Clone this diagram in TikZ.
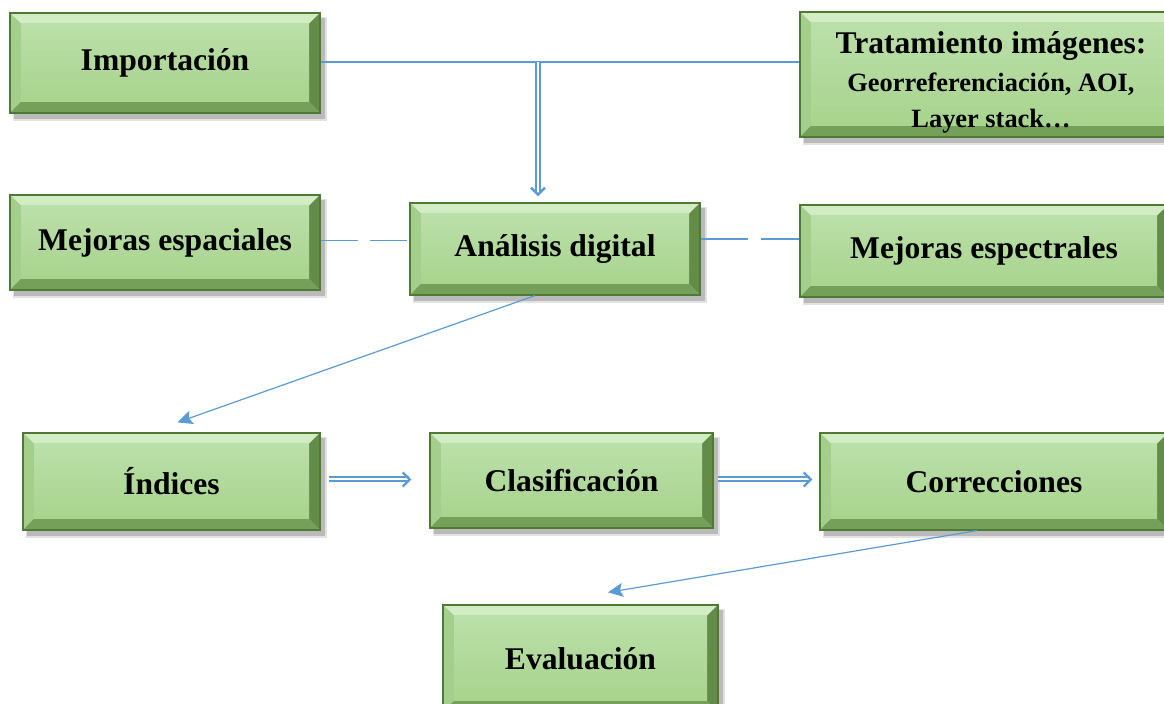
\documentclass[tikz,border=0pt]{standalone}
\usepackage{fontspec}
\setmainfont{Liberation Serif}
\usetikzlibrary{arrows.meta}
\definecolor{topc}{HTML}{D2EDC3}
\definecolor{leftc}{HTML}{A3CE8B}
\definecolor{rightc}{HTML}{628C48}
\definecolor{botc}{HTML}{74A05A}
\definecolor{midtop}{HTML}{BBDFA9}
\definecolor{midbot}{HTML}{A8D48E}
\definecolor{borderc}{HTML}{4E7A33}
\definecolor{shadowc}{HTML}{8A8A8A}
\definecolor{lineblue}{HTML}{5B9BD5}
\tikzset{
  gtext/.style={draw=borderc, line width=0.6pt, inner sep=0pt, align=center,
    font=\bfseries\fontsize{15.8}{19}\selectfont, text=black},
  blueline/.style={draw=lineblue, line width=0.6pt},
  bluearrow/.style={blueline, -{Stealth[length=7.5pt,width=7pt,inset=1.5pt]}},
  dblarrow/.style={draw=lineblue, line width=1pt, double=white, double distance=1pt,
    -{Straight Barb[length=3.5pt, width=7pt, line width=1.2pt]}},
}
\newcommand\gbox[6]{%
  \fill[shadowc, opacity=0.25] ({#2+3},{#3+4}) rectangle ({#4+7},{#5+8});
  \fill[shadowc, opacity=0.45] ({#2+4},{#3+5}) rectangle ({#4+5},{#5+6});
  \fill[topc] (#2,#3) -- (#4,#3) -- ({#4-11},{#3+11}) -- ({#2+11},{#3+11}) -- cycle;
  \fill[leftc] (#2,#3) -- ({#2+11},{#3+11}) -- ({#2+11},{#5-11}) -- (#2,#5) -- cycle;
  \fill[rightc] (#4,#3) -- (#4,#5) -- ({#4-11},{#5-11}) -- ({#4-11},{#3+11}) -- cycle;
  \fill[botc] (#2,#5) -- (#4,#5) -- ({#4-11},{#5-11}) -- ({#2+11},{#5-11}) -- cycle;
  \shade[top color=midtop, bottom color=midbot] ({#2+11},{#3+11}) rectangle ({#4-11},{#5-11});
  \node[gtext, minimum width={(#4-#2)*0.5pt}, minimum height={(#5-#3)*0.5pt}] (#1) at ({(#2+#4)/2},{(#3+#5)/2}) {#6};
}
\begin{document}
\begin{tikzpicture}[x=0.5pt, y=-0.5pt]
\useasboundingbox (0,0) rectangle (1164,704);
\gbox{imp}{10}{13}{320}{113}{Importación}
\gbox{trat}{800}{12}{1182}{137}{\rule{0pt}{19pt}Tratamiento imágenes:\\[0pt]{\fontsize{13.2}{16}\selectfont Georreferenciación, AOI,}\\[-1pt]{\fontsize{13.2}{16}\selectfont Layer stack…}}
\gbox{mesp}{10}{195}{320}{290}{Mejoras espaciales}
\gbox{ana}{410}{203}{700}{295}{Análisis digital}
\gbox{mspec}{800}{205}{1168}{297}{Mejoras espectrales}
\gbox{ind}{23}{433}{320}{530}{Índices}
\gbox{cla}{430}{433}{713}{528}{Clasificación}
\gbox{corr}{820}{433}{1168}{530}{Correcciones}
\gbox{eva}{443}{605}{718}{712}{Evaluación}
% connectors
\coordinate (split) at (538,62);
\draw[blueline] ([yshift=0.5pt]imp.east) -- ([yshift=0.5pt]imp.east -| trat.west);
\draw[dblarrow, shorten >=3pt] (split) -- (split |- ana.north);
\draw[blueline, dash pattern=on 18.5pt off 6pt] ([yshift=1pt]mesp.east) -- ([yshift=1pt]mesp.east -| ana.west);
\draw[blueline, dash pattern=on 23.5pt off 6.5pt] ([yshift=5pt]ana.east) -- ([yshift=5pt]ana.east -| mspec.west);
\draw[bluearrow] ([xshift=-10pt]ana.south) -- ([shift={(3pt,5pt)}]ind.north);
\draw[dblarrow, shorten <=4pt, shorten >=9pt] ([yshift=1pt]ind.east) -- ([yshift=1pt]ind.east -| cla.west);
\draw[dblarrow, shorten <=2pt, shorten >=3.5pt] ([yshift=0.5pt]cla.east) -- ([yshift=0.5pt]cla.east -| corr.west);
\draw[bluearrow] ([xshift=-8.5pt]corr.south) -- ([shift={(13.75pt,6pt)}]eva.north);
\end{tikzpicture}
\end{document}
